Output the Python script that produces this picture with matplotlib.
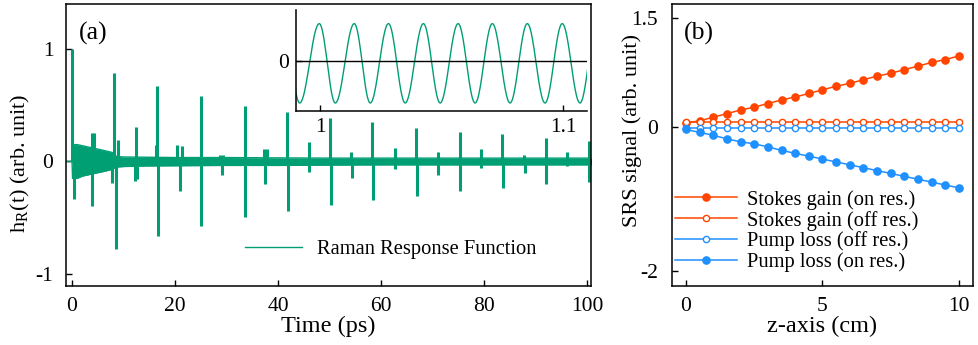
import numpy as np
import matplotlib
matplotlib.use('Agg')
import matplotlib.pyplot as plt

plt.rcParams['font.family'] = ['Liberation Serif', 'DejaVu Serif']
plt.rcParams['mathtext.fontset'] = 'stix'
plt.rcParams['axes.unicode_minus'] = False

GREEN = '#009E73'
RED = '#FF4500'
BLUE = '#1E90FF'

# ---- panel (a): Raman response, band envelope + revival spikes
env_t = [-1.2, 0.0, 0.1, 1, 2, 4, 6, 7.8, 8.6, 10, 14, 20, 30, 40, 50, 60, 70, 80, 90, 101]
env_hi = [0, 0, 0.15, 0.15, 0.14, 0.12, 0.10, 0.08, 0.045, 0.04, 0.038, 0.035, 0.035,
          0.032, 0.03, 0.03, 0.03, 0.03, 0.03, 0.03]
env_lo = [0, 0, -0.15, -0.15, -0.13, -0.11, -0.09, -0.07, -0.05, -0.045, -0.04, -0.038,
          -0.035, -0.035, -0.032, -0.03, -0.03, -0.03, -0.03, -0.03]

up_t = [0.05, 3.8, 4.3, 8.2, 9.0, 12.45, 16.3, 16.6, 20.4, 21.3, 25.0, 28.8, 29.4,
        33.5, 37.2, 37.9, 41.7, 46.0, 50.2, 54.2, 58.3, 62.7, 66.9, 71.0, 75.3,
        79.4, 83.6, 87.8, 92.0, 96.1, 100.4]
up_v = [1.0, 0.25, 0.25, 0.79, 0.19, 0.31, 0.15, 0.67, 0.15, 0.14, 0.58, 0.06, 0.06,
        0.49, 0.11, 0.11, 0.44, 0.17, 0.39, 0.08, 0.35, 0.12, 0.30, 0.08, 0.26,
        0.11, 0.24, 0.06, 0.21, 0.08, 0.18]
dn_t = [0.35, 3.9, 7.7, 8.45, 12.2, 12.7, 16.65, 21.0, 25.1, 29.1, 33.6, 37.5, 41.9,
        46.1, 50.3, 54.3, 58.4, 62.8, 67.0, 71.1, 75.4, 79.5, 83.7, 87.9, 92.1,
        96.2, 100.5]
dn_v = [-0.33, -0.40, -0.19, -0.78, -0.17, -0.16, -0.66, -0.26, -0.57, -0.12, -0.49,
        -0.20, -0.44, -0.09, -0.39, -0.15, -0.34, -0.07, -0.31, -0.12, -0.26, -0.06,
        -0.24, -0.10, -0.20, -0.04, -0.18]

# inset: extrema of the carrier oscillation
inset_ext_t = [0.9850, 0.9915, 0.9996, 1.0062, 1.0140, 1.0206, 1.0281, 1.0350, 1.0425,
               1.0494, 1.0568, 1.0638, 1.0709, 1.0782, 1.0853, 1.0926, 1.0997, 1.1070,
               1.1140]
inset_ext_v = [0.93, -1.05, 0.93, -1.05, 0.93, -1.05, 0.93, -1.05, 0.93, -1.05, 0.93,
               -1.05, 0.93, -1.05, 0.93, -1.05, 0.93, -1.05, 0.93]

# ---- panel (b): SRS signal vs z
z = np.arange(0, 10.01, 0.5)
stokes_on = [0.05, 0.08, 0.13, 0.18, 0.23, 0.27, 0.32, 0.37, 0.41, 0.46, 0.51,
             0.56, 0.60, 0.65, 0.70, 0.74, 0.79, 0.84, 0.89, 0.93, 0.98]
stokes_off = [0.06] * 21
pump_off = [-0.02] * 21
pump_on = [-0.04, -0.08, -0.12, -0.17, -0.21, -0.24, -0.28, -0.33, -0.37, -0.41, -0.45,
           -0.49, -0.53, -0.57, -0.61, -0.65, -0.69, -0.73, -0.77, -0.81, -0.85]

TICK_FS = 15.5
LABEL_FS = 17.5
LEG_FS = 14.8


def half_cos_curve(tx, vx, n=40):
    ts, vs = [], []
    for i in range(len(tx) - 1):
        s = np.linspace(0, 1, n, endpoint=False)
        ts.append(tx[i] + (tx[i + 1] - tx[i]) * s)
        vs.append(vx[i] + (vx[i + 1] - vx[i]) * (1 - np.cos(np.pi * s)) / 2)
    return np.concatenate(ts), np.concatenate(vs)


def style_ax(ax, pad):
    for sp in ax.spines.values():
        sp.set_linewidth(1.1)
    ax.tick_params(direction='in', length=4, width=1, labelsize=TICK_FS, pad=pad,
                   top=False, right=False)


fig = plt.figure(figsize=(9.79, 3.45), dpi=100)
ax = fig.add_axes([66 / 979, 59 / 345, 525 / 979, 282 / 345])
ax.fill_between(env_t, env_lo, env_hi, color=GREEN, lw=0)
ax.plot(env_t, env_hi, color=GREEN, lw=1, label='Raman Response Function')
ax.plot(env_t, env_lo, color=GREEN, lw=1)
ax.vlines(up_t, 0, up_v, color=GREEN, lw=2.2)
ax.vlines(dn_t, dn_v, 0, color=GREEN, lw=2.2)
ax.set_xlim(-1.17, 100.8)
ax.set_ylim(-1.107, 1.40)
ax.set_xticks([0, 20, 40, 60, 80, 100])
ax.set_yticks([-1, 0, 1])
style_ax(ax, 8)
ax.tick_params(axis='y', pad=9)
ax.set_xlabel('Time (ps)', fontsize=LABEL_FS, labelpad=0)
ax.set_ylabel(r'h$_\mathregular{R}$(t) (arb. unit)', fontsize=16)
ax.yaxis.set_label_coords(-0.065, 0.436)
ax.text(0.025, 0.935, '(a)', transform=ax.transAxes, fontsize=18.5, va='top')
ax.legend(loc='lower left', bbox_to_anchor=(0.305, 0.03), frameon=False, fontsize=LEG_FS,
          handlelength=2.8, handletextpad=0.7)

ins = fig.add_axes([296 / 979, 234 / 345, 291 / 979, 101 / 345])
it, iv = half_cos_curve(inset_ext_t, inset_ext_v)
ins.plot(it, iv, color=GREEN, lw=1)
ins.axhline(0, color='black', lw=1)
ins.set_xlim(0.99, 1.1099)
ins.set_ylim(-1.25, 1.27)
ins.set_xticks([1.0, 1.1])
ins.set_xticklabels(['1', '1.1'])
ins.set_yticks([0])
ins.spines['top'].set_visible(False)
ins.spines['right'].set_visible(False)
style_ax(ins, 5)

bx = fig.add_axes([672 / 979, 59 / 345, 301 / 979, 282 / 345])
bx.plot(z, stokes_on, '-o', color=RED, lw=1.1, ms=5.2, label='Stokes gain (on res.)')
bx.plot(z, stokes_off, '-o', color=RED, lw=1.1, ms=4.5, mfc='white', mew=1,
        label='Stokes gain (off res.)')
bx.plot(z, pump_off, '-o', color=BLUE, lw=1.1, ms=4.5, mfc='white', mew=1,
        label='Pump loss (off res.)')
bx.plot(z, pump_on, '-o', color=BLUE, lw=1.1, ms=5.2, label='Pump loss (on res.)')
bx.set_xlim(-0.51, 10.51)
bx.set_ylim(-2.21, 1.70)
bx.set_xticks([0, 5, 10])
bx.set_yticks([-2, 0, 1.5])
bx.set_yticklabels(['-2', '0', '1.5'])
style_ax(bx, 8)
bx.tick_params(axis='y', pad=10)
bx.set_xlabel('z-axis (cm)', fontsize=LABEL_FS, labelpad=0)
bx.set_ylabel('SRS signal (arb. unit)', fontsize=16)
bx.yaxis.set_label_coords(-0.10, 0.55)
bx.text(0.04, 0.935, '(b)', transform=bx.transAxes, fontsize=18.5, va='top')
bx.legend(loc='lower left', bbox_to_anchor=(-0.03, 0.005), frameon=False, fontsize=LEG_FS,
          handlelength=3.0, handletextpad=0.5, labelspacing=0.05, borderaxespad=0.2)

fig.savefig('out.png', dpi=100)
